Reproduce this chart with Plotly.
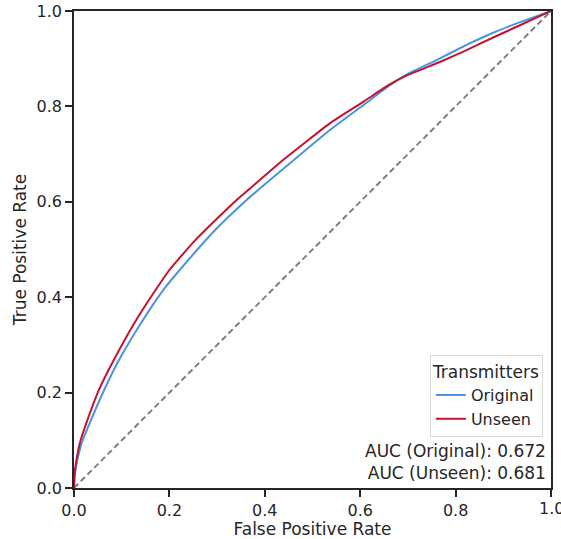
import plotly.graph_objects as go

# ROC curves for the two transmitter sets
fpr_original = [0.0, 0.001, 0.004, 0.01, 0.017, 0.027, 0.063, 0.098, 0.14, 0.187, 0.25, 0.3,
                0.362, 0.44, 0.537, 0.607, 0.66, 0.70, 0.76, 0.823, 0.88, 0.928, 1.0]
tpr_original = [0.0, 0.02, 0.043, 0.072, 0.097, 0.122, 0.205, 0.275, 0.345, 0.415, 0.490, 0.545,
                0.604, 0.670, 0.751, 0.803, 0.843, 0.868, 0.897, 0.929, 0.955, 0.974, 1.0]

fpr_unseen = [0.0, 0.001, 0.003, 0.008, 0.013, 0.021, 0.052, 0.087, 0.126, 0.171, 0.2, 0.25, 0.3,
              0.341, 0.369, 0.439, 0.537, 0.607, 0.66, 0.70, 0.767, 0.823, 0.88, 0.928, 1.0]
tpr_unseen = [0.0, 0.025, 0.045, 0.075, 0.097, 0.122, 0.205, 0.275, 0.345, 0.415, 0.457, 0.515, 0.565,
              0.604, 0.628, 0.688, 0.765, 0.810, 0.845, 0.866, 0.893, 0.918, 0.945, 0.967, 1.0]

auc_original = 0.672
auc_unseen = 0.681

chance_line = [0.0, 1.0]
tick_values = [0.0, 0.2, 0.4, 0.6, 0.8, 1.0]
tick_labels = ["0.0", "0.2", "0.4", "0.6", "0.8", "1.0"]

BLUE = "#4a93df"
RED = "#c4122f"
INK = "#262626"
FONT = "DejaVu Sans"

fig = go.Figure()

fig.add_trace(go.Scatter(
    x=chance_line, y=chance_line, mode="lines",
    line=dict(color="#808080", width=2, dash="6px,3.5px"),
    showlegend=False, hoverinfo="skip",
))
fig.add_trace(go.Scatter(
    x=fpr_original, y=tpr_original, mode="lines", name="Original",
    line=dict(color=BLUE, width=2, shape="spline", smoothing=0.4),
))
fig.add_trace(go.Scatter(
    x=fpr_unseen, y=tpr_unseen, mode="lines", name="Unseen",
    line=dict(color=RED, width=2, shape="spline", smoothing=0.4),
))

axis_common = dict(
    range=[0, 1],
    tickvals=tick_values,
    ticktext=tick_labels,
    ticks="outside",
    ticklen=7,
    tickwidth=1.5,
    tickcolor=INK,
    showline=True,
    linecolor=INK,
    linewidth=1.5,
    mirror=True,
    showgrid=False,
    zeroline=False,
    automargin=False,
    tickfont=dict(family=FONT, size=16, color=INK),
    title_font=dict(family=FONT, size=17, color=INK),
)

fig.update_xaxes(title_text="False Positive Rate", title_standoff=4, **axis_common)
fig.update_yaxes(title_text="True Positive Rate", title_standoff=6, **axis_common)

# The last x tick label runs past the figure edge, so plotly drops it; draw it explicitly
fig.add_annotation(
    xref="x", yref="paper", x=tick_values[-1], y=0,
    xanchor="center", yanchor="top", yshift=-9,
    text=tick_labels[-1], showarrow=False,
    font=dict(family=FONT, size=16, color=INK),
)

fig.add_annotation(
    xref="paper", yref="paper", x=0.994, y=0.006,
    xanchor="right", yanchor="bottom", align="right",
    text=f"AUC (Original): {auc_original:.3f}<br>AUC (Unseen): {auc_unseen:.3f}",
    showarrow=False,
    font=dict(family=FONT, size=17, color=INK),
)

fig.update_layout(
    width=561, height=539,
    margin=dict(l=74, r=10, t=11, b=51),
    paper_bgcolor="white",
    plot_bgcolor="white",
    font=dict(family=FONT, size=16, color=INK),
    legend=dict(
        title=dict(text="Transmitters", font=dict(family=FONT, size=17, color=INK)),
        x=0.983, y=0.107, xanchor="right", yanchor="bottom",
        bgcolor="rgba(255,255,255,0.8)",
        bordercolor="#d9d9d9", borderwidth=1,
        font=dict(family=FONT, size=16, color=INK),
        itemwidth=30,
        tracegroupgap=2,
    ),
)

fig.write_html("out.html")
